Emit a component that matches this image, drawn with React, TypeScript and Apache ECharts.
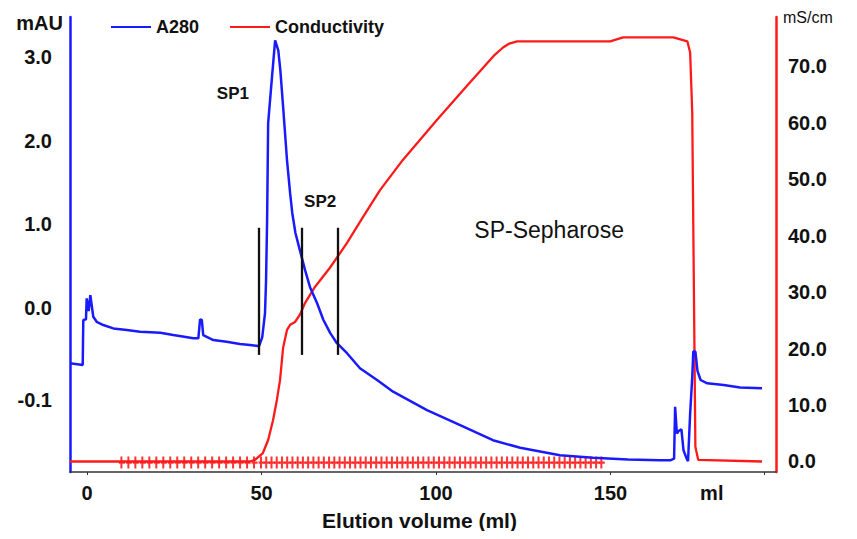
import React, { useEffect, useRef } from "react";
import * as echarts from "echarts";

// A280 trace (ml, mAU axis units)
const a280Volume = [
  -4.87, -1.23, -1.06, -0.29, -0.09, 0.49, 0.95, 1.8, 2.78, 4.67, 7.54, 11.4, 15.2, 21.0, 24.7, 30.5, 31.9,
  32.4, 32.9, 33.3, 36.2, 40.0, 43.8, 46.7, 49.0, 49.3, 50.2, 51.0, 51.3, 51.6, 51.9, 53.0, 53.9, 54.8, 55.4,
  56.2, 57.3, 58.2, 58.8, 59.7, 61.0, 62.5, 63.9, 65.9, 67.7, 69.7, 71.6, 74.5, 78.2, 83.1, 87.7, 97.4, 106.9,
  116.3, 124.1, 135.5, 145.0, 155.0, 164.2, 167.1, 168.2, 168.5, 169.0, 169.5, 170.3, 170.9, 171.8, 172.2,
  172.8, 173.4, 173.7, 174.3, 174.9, 175.8, 177.7, 182.4, 187.1, 193.4,
];
const a280Values = [
  -0.661, -0.681, -0.143, -0.135, 0.116, -0.036, 0.155, -0.104, -0.164, -0.203, -0.243, -0.263, -0.283, -0.295,
  -0.323, -0.362, -0.362, -0.135, -0.143, -0.323, -0.382, -0.403, -0.43, -0.442, -0.454, -0.454, -0.35, -0.06,
  0.33, 1.05, 2.21, 2.76, 3.2, 3.08, 2.84, 2.4, 1.77, 1.37, 1.14, 0.9, 0.69, 0.45, 0.25, 0.06, -0.14, -0.3,
  -0.42, -0.54, -0.72, -0.86, -1.0, -1.22, -1.4, -1.58, -1.67, -1.76, -1.79, -1.81, -1.82, -1.82, -1.8, -1.18,
  -1.5, -1.47, -1.45, -1.7, -1.8, -1.83, -1.26, -0.83, -0.52, -0.52, -0.75, -0.86, -0.9, -0.92, -0.95, -0.96,
];

// Conductivity trace (ml, mS/cm)
const condVolume = [
  -4.87, 46.7, 48.1, 50.4, 51.9, 53.3, 54.4, 55.3, 56.2, 57.3, 58.2, 59.6, 61.0, 62.5, 65.3, 69.6, 74.5, 79.1,
  84.0, 90.5, 100.3, 109.7, 116.5, 119.2, 121.0, 123.2, 149.9, 153.6, 168.0, 172.0, 172.8, 173.4, 174.3, 175.1,
  193.4,
];
const condValues = [
  0, 0, 0.27, 1.5, 3.8, 7.3, 10.9, 14.4, 20.2, 23.3, 24.2, 24.7, 26.0, 28.1, 30.9, 34.3, 38.7, 43.3, 48.1,
  53.4, 60.5, 67.1, 71.8, 73.3, 74.0, 74.4, 74.4, 75.1, 75.1, 74.4, 72.4, 61.8, 2.6, 0.3, 0,
];

// Fraction collector marks (ml)
const fractionMarks = [
  10, 12, 14, 16, 18, 20, 22, 24, 26, 28, 30, 32, 34, 36, 38, 40, 42, 44, 46, 48, 50, 51.5, 53, 54.5, 56, 57.5,
  59, 60.5, 62, 63.5, 65, 66.5, 68, 69.5, 71, 72.5, 74, 75.5, 77, 78.5, 80, 81.5, 83, 84.5, 86, 87.5, 89, 90.5,
  92, 93.5, 95, 96.5, 98, 99.5, 101, 102.5, 104, 105.5, 107, 108.5, 110, 111.5, 113, 114.5, 116, 117.5, 119,
  120.5, 122, 123.5, 125, 126.5, 128, 129.5, 131, 132.5, 134, 135.5, 137, 138.5, 140, 141.5, 143, 144.5, 146,
  147.5,
];

// Fraction cut lines (ml)
const fractionCuts = [49.3, 61.4, 71.7];
const cutTop = 0.96;
const cutBottom = -0.56;

// Ticks
const xTickValues = [0, 50, 100, 150];
const xUnitPos = 179;
const xTickMarks = [0, 50, 100, 150, 194];
const leftTickValues = [-1.1, 0, 1, 2, 3];
const leftTickLabels = ["-0.1", "0.0", "1.0", "2.0", "3.0"];
const rightTickValues = [0, 10, 20, 30, 40, 50, 60, 70];

const annotations = [
  { name: "SP1", coord: [41.8, 2.56] },
  { name: "SP2", coord: [66.8, 1.27] },
];
const columnLabel = { name: "SP-Sepharose", coord: [132.4, 0.93] };

const FONT = "'Liberation Sans', Arial, sans-serif";
const BLUE = "#1a1aff";
const RED = "#ff1a1a";

export default function App() {
  const ref = useRef<HTMLDivElement>(null);
  useEffect(() => {
    if (!ref.current) return;
    const chart = echarts.init(ref.current, null, { renderer: "svg" });
    const near = (a: number, b: number) => Math.abs(a - b) < 1e-6;
    chart.setOption({
      animation: false,
      backgroundColor: "#ffffff",
      textStyle: { fontFamily: FONT },
      legend: {
        data: ["A280", "Conductivity"],
        left: 106,
        top: 13,
        icon: "rect",
        itemWidth: 40,
        itemHeight: 2,
        itemGap: 31,
        textStyle: { fontFamily: FONT, fontWeight: "bold", fontSize: 18, color: "#111" },
      },
      grid: { left: 70, right: 81, top: 17, bottom: 67, containLabel: false, outerBoundsMode: "none" },
      xAxis: {
        type: "value",
        min: -4.87,
        max: 197.4,
        name: "Elution volume (ml)",
        nameLocation: "middle",
        nameGap: 38,
        nameTextStyle: { fontFamily: FONT, fontWeight: "bold", fontSize: 21, color: "#111", padding: [0, 7, 0, 0] },
        axisLine: { show: true, onZero: false, lineStyle: { color: "#333", width: 1.5 } },
        axisTick: { show: true, customValues: xTickMarks, length: 3, lineStyle: { color: "#333" } },
        splitLine: { show: false },
        axisLabel: {
          customValues: [...xTickValues, xUnitPos],
          formatter: (v: number) => (near(v, xUnitPos) ? "ml" : String(Math.round(v))),
          fontFamily: FONT,
          fontWeight: "bold",
          fontSize: 20,
          color: "#111",
          margin: 11,
        },
      },
      yAxis: [
        {
          type: "value",
          position: "left",
          min: -1.96,
          max: 3.48,
          name: "mAU",
          nameLocation: "end",
          nameGap: -6,
          nameTextStyle: {
            fontFamily: FONT,
            fontWeight: "bold",
            fontSize: 20,
            color: "#111",
            align: "right",
            verticalAlign: "middle",
            padding: [0, 7, 0, 0],
          },
          axisLine: { show: true, onZero: false, lineStyle: { color: BLUE, width: 2.5 } },
          axisTick: { show: false },
          splitLine: { show: false },
          axisLabel: {
            customValues: leftTickValues,
            formatter: (v: number) => {
              const i = leftTickValues.findIndex((t) => near(t, v));
              return i >= 0 ? leftTickLabels[i] : "";
            },
            fontFamily: FONT,
            fontWeight: "bold",
            fontSize: 20,
            color: "#111",
            margin: 18,
          },
        },
        {
          type: "value",
          position: "right",
          min: -1.86,
          max: 78.7,
          name: "mS/cm",
          nameLocation: "end",
          nameGap: 0,
          nameTextStyle: {
            fontFamily: FONT,
            fontSize: 16,
            color: "#111",
            align: "left",
            verticalAlign: "middle",
            padding: [0, 0, 0, 7],
          },
          axisLine: { show: true, onZero: false, lineStyle: { color: RED, width: 2.5 } },
          axisTick: { show: false },
          splitLine: { show: false },
          axisLabel: {
            customValues: rightTickValues,
            formatter: (v: number) => v.toFixed(1),
            fontFamily: FONT,
            fontWeight: "bold",
            fontSize: 20,
            color: "#111",
            margin: 12,
          },
        },
      ],
      series: [
        {
          name: "fractions",
          type: "scatter",
          yAxisIndex: 1,
          silent: true,
          symbol: "path://M1.5,0 H3.5 V4 H6 V6 H3.5 V10 H1.5 V6 H0 V4 H1.5 Z",
          symbolSize: [6, 12],
          itemStyle: { color: "#ff0000" },
          data: fractionMarks.map((x) => [x, -0.2]),
          z: 1,
        },
        {
          name: "Conductivity",
          type: "line",
          yAxisIndex: 1,
          showSymbol: false,
          symbol: "none",
          lineStyle: { color: RED, width: 2.3 },
          itemStyle: { color: RED },
          data: condVolume.map((x, i) => [x, condValues[i]]),
          z: 2,
        },
        {
          name: "A280",
          type: "line",
          yAxisIndex: 0,
          showSymbol: false,
          symbol: "none",
          lineStyle: { color: BLUE, width: 2.5 },
          itemStyle: { color: BLUE },
          data: a280Volume.map((x, i) => [x, a280Values[i]]),
          z: 3,
          markLine: {
            silent: true,
            symbol: "none",
            label: { show: false },
            lineStyle: { color: "#111", width: 2.3, type: "solid" },
            data: fractionCuts.map((x) => [{ coord: [x, cutTop] }, { coord: [x, cutBottom] }]),
          },
          markPoint: {
            silent: true,
            symbol: "circle",
            symbolSize: 0,
            label: {
              show: true,
              position: "inside",
              formatter: "{b}",
              fontFamily: FONT,
              fontWeight: "bold",
              fontSize: 17,
              color: "#111",
            },
            data: [
              ...annotations.map((a) => ({ name: a.name, coord: a.coord })),
              {
                name: columnLabel.name,
                coord: columnLabel.coord,
                label: { fontWeight: "normal", fontSize: 23 },
              },
            ],
          },
        },
      ],
    });
    return () => chart.dispose();
  }, []);
  return <div ref={ref} style={{ width: 857, height: 539, margin: -8 }} />;
}
